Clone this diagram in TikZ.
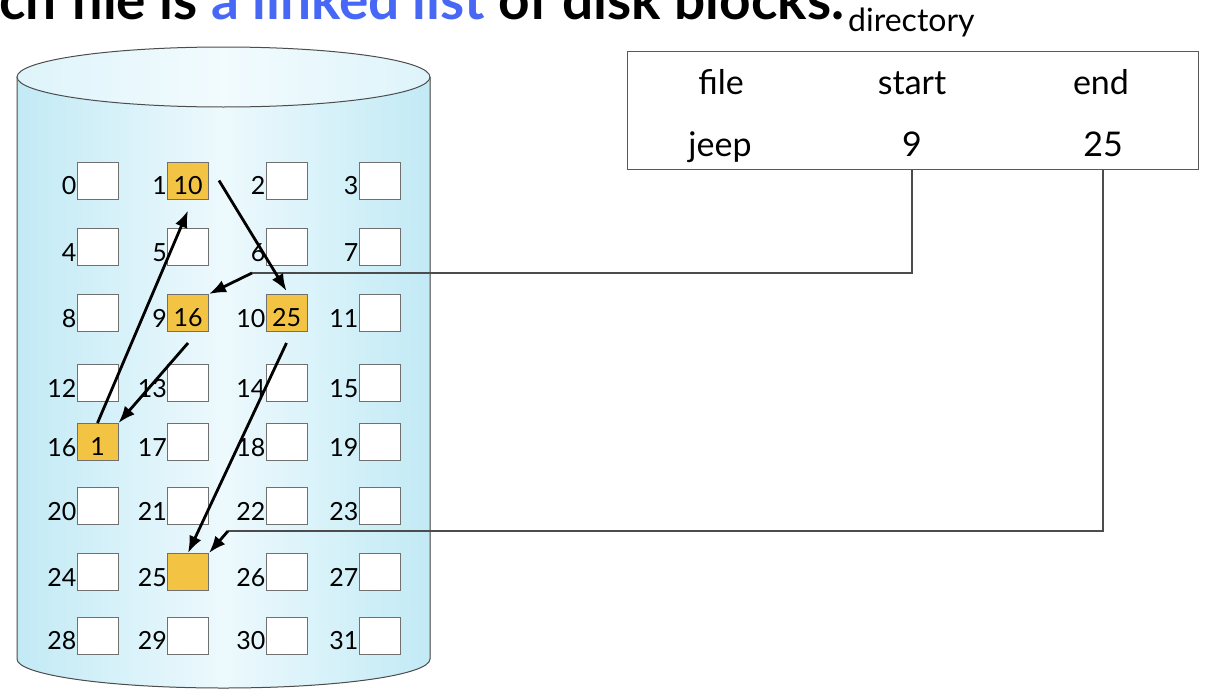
\documentclass[tikz,border=0pt]{standalone}
\usepackage{fontspec}
\setmainfont{Lato}
\usetikzlibrary{arrows.meta, positioning, calc}
\definecolor{diskedge}{HTML}{C2EAF5}
\definecolor{diskmid}{HTML}{EDF9FD}
\definecolor{lidedge}{HTML}{DDF4FA}
\definecolor{lidmid}{HTML}{F2FBFE}
\definecolor{diskline}{HTML}{4D4D4D}
\definecolor{blockgold}{HTML}{F3C343}
\definecolor{blockborder}{HTML}{707070}
\definecolor{linkblue}{HTML}{4767F5}

\begin{document}
\begin{tikzpicture}[x=1pt, y=-1pt,
    blk/.style={draw=blockborder, fill=white, line width=1pt,
      minimum width=41pt, minimum height=37pt, inner sep=0pt,
      text height=27pt, text depth=0pt, font=\fontsize{25}{27}\selectfont},
    used/.style={blk, fill=blockgold},
    blknum/.style={inner sep=0pt, anchor=base east,
      font=\fontsize{25}{27}\selectfont},
    cell/.style={anchor=base, inner sep=0pt, font=\fontsize{34}{38}\selectfont},
    hop/.style={-{Latex[length=17pt, width=13pt]}, line width=2.8pt},
    lead/.style={draw=black!70, line width=1.2pt},
    >=Latex
  ]
  \clip (0,0) rectangle (1212,696);

  % disk
  \fill[left color=diskedge, right color=diskedge, middle color=diskmid]
    (17,77) -- (17,659) arc[start angle=180, end angle=360,
    x radius=206.5pt, y radius=29pt] -- (430,77) -- cycle;
  \draw[diskline, line width=1pt] (17,77) -- (17,659) arc[start angle=180,
    end angle=360, x radius=206.5pt, y radius=29pt] -- (430,77);
  \draw[diskline, line width=1pt, left color=lidedge, right color=lidedge,
    middle color=lidmid] (223.5,77) ellipse[x radius=206.5pt, y radius=30pt];

  % blocks 0..31
  \foreach \r/\y in {0/180.5, 1/247, 2/313, 3/383, 4/442, 5/506, 6/572, 7/635.5} {
    \foreach \c/\x in {0/97.5, 1/188, 2/286.5, 3/379.5} {
      \pgfmathtruncatemacro{\n}{4*\r+\c}
      \node[blk] (b\n) at (\x,\y) {};
      \node[blknum] (n\n) at ([yshift=5pt]b\n.south west) {\n};
    }
  }
  \node[used] (u9) at (b9) {16};
  \node[used] (u16) at (b16) {1};
  \node[used] (u1) at (b1) {10};
  \node[used] (u10) at (b10) {25};
  \node[used] (u25) at (b25) {};

  % title and directory
  \node[anchor=base west, inner sep=0pt,
    font=\fontsize{55}{60}\selectfont\bfseries] (title) at (-1,19)
    {ch file is \textcolor{linkblue}{a linked list} of disk blocks.};
  \node[anchor=base west, inner sep=0pt, font=\fontsize{32}{34}\selectfont]
    (dirname) at (848,31) {directory};
  \node[draw=black!65, line width=1pt, minimum width=571pt,
    minimum height=118pt, inner sep=0pt] (dir) at (912.5,110) {};
  \node[cell] (hfile) at (721,94) {file};
  \node[cell] (hstart) at (912,94) {start};
  \node[cell] (hend) at (1101,94) {end};
  \node[cell] (vfile) at (720,156) {jeep};
  \node[cell] (vstart) at (912,156) {9};
  \node[cell] (vend) at (1103,156) {25};

  % pointers
  \coordinate (sbend) at (252,273);
  \coordinate (ebend) at (228,531);
  \draw[lead] (vstart |- dir.south) |- (sbend);
  \draw[lead] (vend |- dir.south) |- (ebend);
  \draw[hop] (sbend) -- (u9.north east);
  \draw[hop] (ebend) -- (u25.north east);
  \draw[hop] ([xshift=10pt]u1.east) -- ([yshift=3pt]u10.north);
  \draw[hop] (u16.north) -- ([yshift=-11pt]u1.south);
  \draw[hop] ([yshift=-11pt]u9.south) -- (u16.north east);
  \draw[hop] ([yshift=-11pt]u10.south) -- (u25.north);
\end{tikzpicture}
\end{document}
